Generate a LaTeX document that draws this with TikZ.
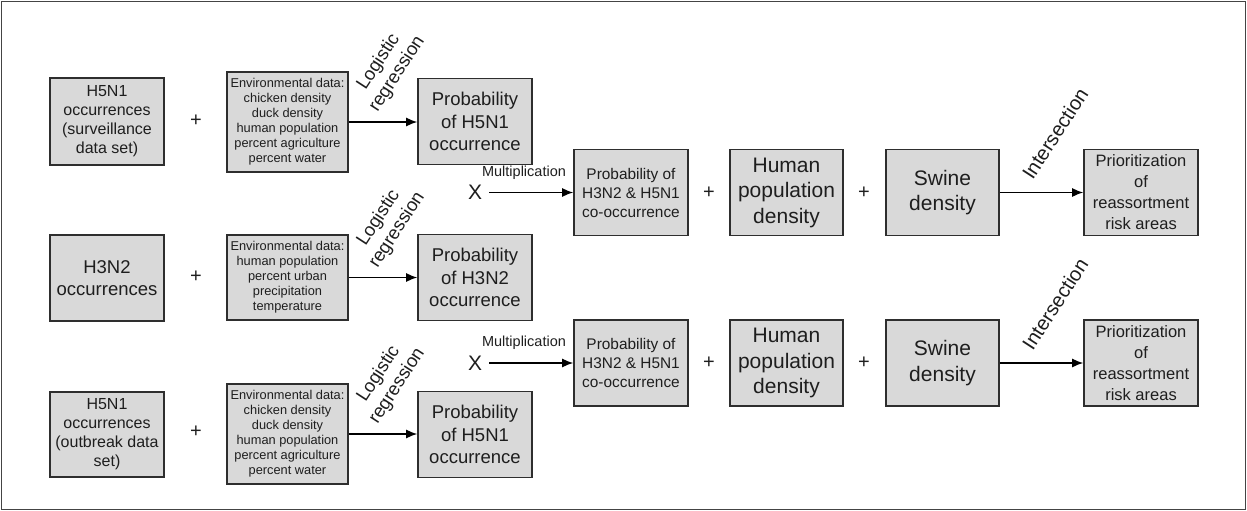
\documentclass[tikz,border=0pt]{standalone}
\usepackage{fontspec}
\setmainfont{Liberation Sans}
\usetikzlibrary{arrows.meta}
\definecolor{boxfill}{HTML}{D9D9D9}
\definecolor{boxline}{HTML}{2E2E2E}
\definecolor{txt}{HTML}{1E1E1E}
\definecolor{framec}{HTML}{444444}
\newcommand{\fs}[2]{\fontsize{#1}{#2}\selectfont}
\tikzset{
  box/.style={draw=boxline, fill=boxfill, line width=1.6pt, inner sep=0pt, align=center, text=txt},
  bsmall/.style={box, minimum width=114pt, minimum height=86pt},
  envbox/.style={box, minimum width=121pt},
  plus/.style={font=\fs{20}{22}, text=txt, inner sep=0pt},
  arr/.style={-{Latex[length=11pt,width=9pt]}, line width=1.4pt, draw=black},
  rlab/.style={rotate=57, align=center, text=txt, inner sep=0pt},
}
\begin{document}
\begin{tikzpicture}[x=1pt,y=-1pt]
\useasboundingbox (0,0) rectangle (1247,511);
\draw[framec, line width=1.4pt] (1.5,1.5) rectangle (1245.5,509.5);

% row 1
\node[bsmall, minimum height=87pt, font=\fs{16}{19}] (h5a) at (107,121.5) {H5N1\\occurrences\\(surveillance\\data set)};
\node[plus] (pl1) at (196,121) {+};
\node[envbox, minimum height=100pt, font=\fs{12.8}{15}] (env1) at (287.5,122) {Environmental data:\\chicken density\\duck density\\human population\\percent agriculture\\percent water};
\node[bsmall, font=\fs{18.5}{22.5}] (p1) at (475,121.5) {Probability\\of H5N1\\occurrence};
\draw[arr] (env1.east) -- (env1.east -| p1.west);
\node[rlab, font=\fs{18.5}{22}] (lr1) at (388,68) {Logistic\\regression};

% row 2
\node[bsmall, font=\fs{18.5}{22.5}] (h3) at (107,278) {H3N2\\occurrences};
\node[plus] (pl2) at (196,277) {+};
\node[envbox, minimum height=85pt, font=\fs{12.8}{15}] (env2) at (287.5,277.5) {Environmental data:\\human population\\percent urban\\precipitation\\temperature};
\node[bsmall, font=\fs{18.5}{22.5}] (p2) at (475,277.5) {Probability\\of H3N2\\occurrence};
\draw[arr] (env2.east) -- (env2.east -| p2.west);
\node[rlab, font=\fs{18.5}{22}] (lr2) at (388,224) {Logistic\\regression};

% row 3
\node[bsmall, minimum height=85pt, font=\fs{16}{19}] (h5b) at (107,434.5) {H5N1\\occurrences\\(outbreak data\\set)};
\node[plus] (pl3) at (196,432) {+};
\node[envbox, minimum height=100pt, font=\fs{12.8}{15}] (env3) at (287.5,434) {Environmental data:\\chicken density\\duck density\\human population\\percent agriculture\\percent water};
\node[bsmall, font=\fs{18.5}{22.5}] (p3) at (475,434.5) {Probability\\of H5N1\\occurrence};
\draw[arr] (env3.east) -- (env3.east -| p3.west);
\node[rlab, font=\fs{18.5}{22}] (lr3) at (388,380) {Logistic\\regression};

% co-occurrence rows
\foreach \r/\y in {a/192.5, b/363} {
  \node[font=\fs{21}{24}, text=txt, inner sep=1pt] (x\r) at (475,\y) {X};
  \node[box, minimum width=114pt, minimum height=86pt, font=\fs{15.4}{19}] (co\r) at (631,\y) {Probability of\\H3N2 \& H5N1\\co-occurrence};
  \draw[arr] ([xshift=6pt]x\r.east) -- (co\r.west);
  \node[font=\fs{14.5}{16}, text=txt, inner sep=0pt, anchor=south] (mu\r) at (524,\y-13) {Multiplication};
  \node[plus] (pa\r) at (709,\y) {+};
  \node[box, minimum width=113pt, minimum height=86pt, font=\fs{21}{25.5}] (hp\r) at (786.5,\y) {Human\\population\\density};
  \node[plus] (pb\r) at (864,\y) {+};
  \node[box, minimum width=113pt, minimum height=86pt, font=\fs{21}{25.5}] (sw\r) at (942.5,\y) {Swine\\density};
  \node[box, minimum width=114pt, minimum height=86pt, font=\fs{16.5}{21}] (pr\r) at (1141,\y) {Prioritization\\of\\reassortment\\risk areas};
  \draw[arr] (sw\r.east) -- (pr\r.west);
  \node[rlab, font=\fs{20}{22}] (in\r) at (1055,\y-59) {Intersection};
}
\end{tikzpicture}
\end{document}
